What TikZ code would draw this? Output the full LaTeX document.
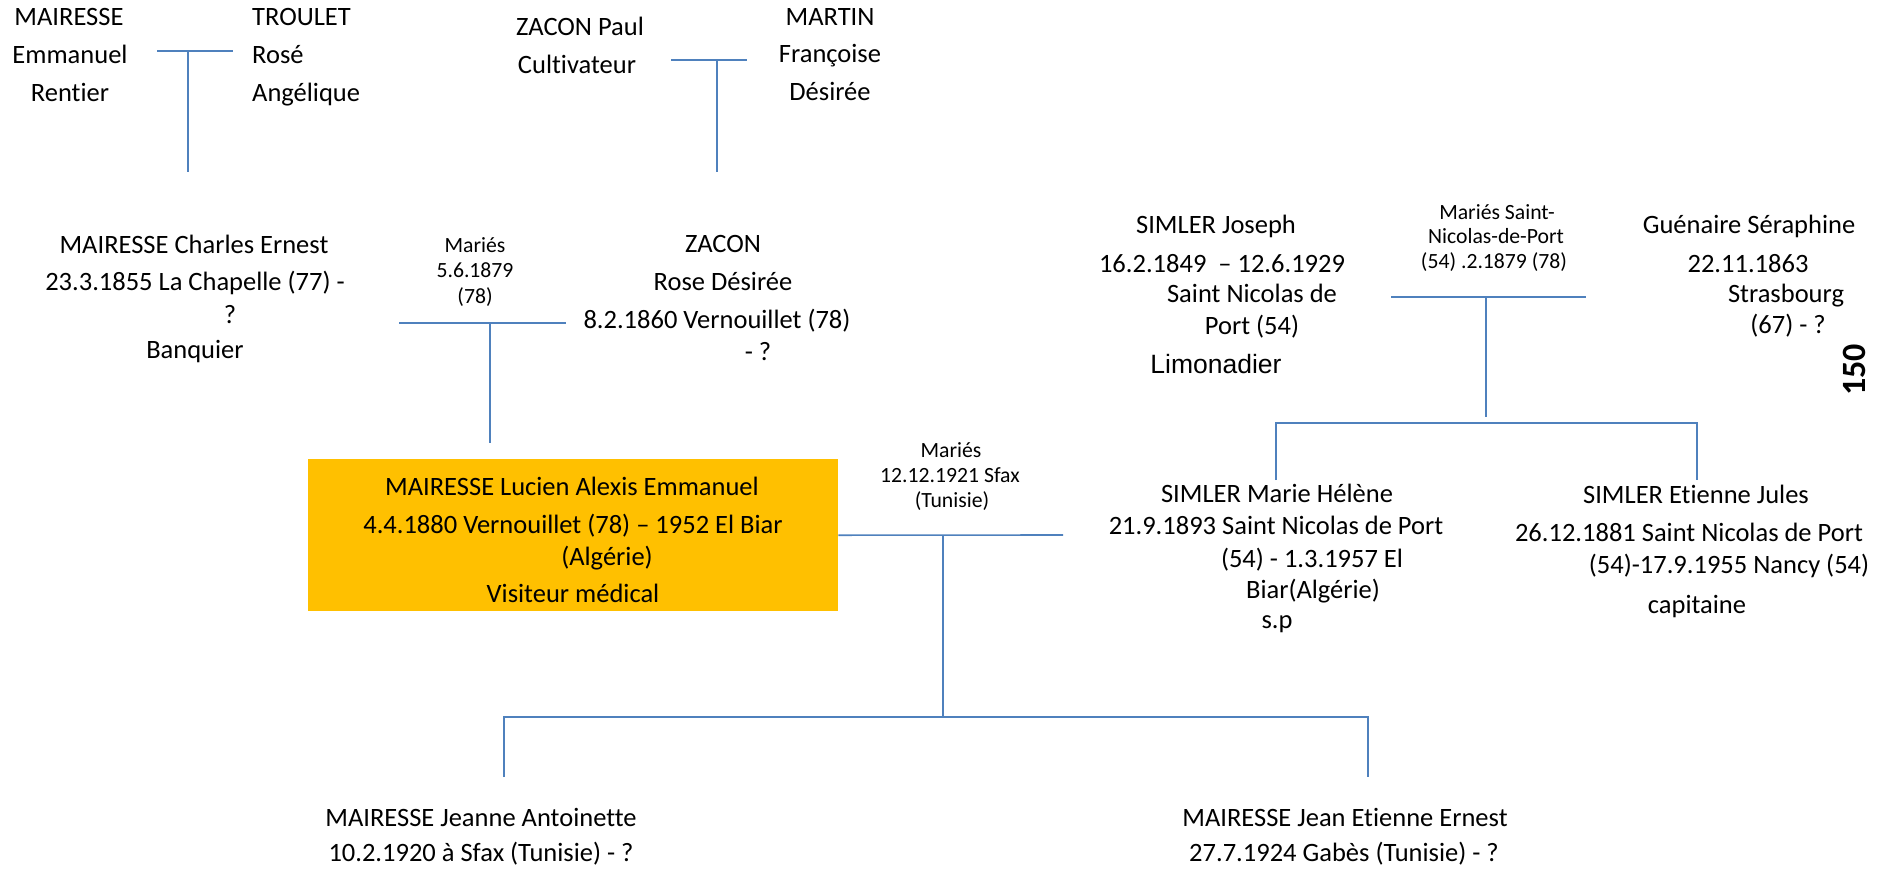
\documentclass[tikz,border=0pt]{standalone}
\usepackage{fontspec}
\setmainfont{Carlito}[Ligatures={NoCommon}]
\newfontfamily\arialf{Liberation Sans}
\definecolor{lineblue}{RGB}{79,129,189}
\definecolor{boxorange}{RGB}{255,192,0}
\begin{document}
\begin{tikzpicture}[x=1pt,y=-1pt,
  txt/.style={anchor=base,inner sep=0pt,font=\fontsize{26.5}{32}\selectfont},
  txtl/.style={txt,anchor=base west},
  sml/.style={anchor=base,inner sep=0pt,font=\fontsize{21.7}{26}\selectfont},
  conn/.style={draw=lineblue,line width=1.6pt}]
\useasboundingbox (0,0) rectangle (1894,871);

% ---- top generation
\node[txt] (ma1) at (69,25) {MAIRESSE};
\node[txt] (ma2) at (70,63) {Emmanuel};
\node[txt] (ma3) at (70,101) {Rentier};
\node[txtl] (tr1) at (252,25) {TROULET};
\node[txtl] (tr2) at (252,63) {Rosé};
\node[txtl] (tr3) at (252,101) {Angélique};
\coordinate (c1l) at (157,51); \coordinate (c1r) at (233,51);
\coordinate (c1m) at (188,51); \coordinate (c1d) at (188,172);
\draw[conn] (c1l) -- (c1r); \draw[conn] (c1m) -- (c1d);

\node[txt] (zp1) at (580,35) {ZACON Paul};
\node[txt] (zp2) at (577,73) {Cultivateur};
\node[txt] (mf1) at (830,25) {MARTIN};
\node[txt] (mf2) at (830,62) {Françoise};
\node[txt] (mf3) at (830,100) {Désirée};
\coordinate (c2l) at (671,60); \coordinate (c2r) at (747,60);
\coordinate (c2m) at (717,60); \coordinate (c2d) at (717,172);
\draw[conn] (c2l) -- (c2r); \draw[conn] (c2m) -- (c2d);

% ---- second generation
\node[txt] (ce1) at (194,253) {MAIRESSE Charles Ernest};
\node[txt] (ce2) at (195,290) {23.3.1855 La Chapelle (77) -};
\node[txt] (ce3) at (230,323) {?};
\node[txt] (ce4) at (195,358) {Banquier};
\node[sml] (m1a) at (475,252) {Mariés};
\node[sml] (m1b) at (475,277) {5.6.1879};
\node[sml] (m1c) at (475,303) {(78)};
\coordinate (c3l) at (399,323); \coordinate (c3r) at (566,323);
\coordinate (c3m) at (490,323); \coordinate (c3d) at (490,443);
\draw[conn] (c3l) -- (c3r); \draw[conn] (c3m) -- (c3d);
\node[txt] (zr1) at (723,252) {ZACON};
\node[txt] (zr2) at (723,290) {Rose Désirée};
\node[txt] (zr3) at (717,328) {8.2.1860 Vernouillet (78)};
\node[txt] (zr4) at (758,360) {- ?};

\node[txt] (sj1) at (1216,233) {SIMLER Joseph};
\node[txt] (sj2) at (1222,272) {16.2.1849 \ – 12.6.1929};
\node[txt] (sj3) at (1252,302) {Saint Nicolas de};
\node[txt] (sj4) at (1252,334) {Port (54)};
\node[txt,font=\arialf\fontsize{26.5}{32}\selectfont] (sj5) at (1216,373) {Limonadier};
\node[sml] (m2a) at (1497,219) {Mariés Saint-};
\node[sml] (m2b) at (1496,243) {Nicolas-de-Port};
\node[sml] (m2c) at (1494,268) {(54) .2.1879 (78)};
\coordinate (c4l) at (1391,297); \coordinate (c4r) at (1586,297);
\coordinate (c4m) at (1486,297); \coordinate (c4d) at (1486,417);
\draw[conn] (c4l) -- (c4r); \draw[conn] (c4m) -- (c4d);
\node[txt] (gs1) at (1749,233) {Guénaire Séraphine};
\node[txt] (gs2) at (1748,272) {22.11.1863};
\node[txt] (gs3) at (1786,302) {Strasbourg};
\node[txt] (gs4) at (1788,333) {(67) - ?};
\node[rotate=90,inner sep=0pt,font=\fontsize{34}{40}\bfseries\selectfont] (pg) at (1854,370) {150};

\coordinate (s1l) at (1276,423); \coordinate (s1r) at (1697,423);
\coordinate (s1a) at (1276,480); \coordinate (s1b) at (1697,480);
\draw[conn] (s1a) -- (s1l) -- (s1r) -- (s1b);

% ---- third generation
\node[fill=boxorange,minimum width=530pt,minimum height=152pt,anchor=north west,inner sep=0pt] (box) at (308,459) {};
\node[txt] (lu1) at (572,495) {MAIRESSE Lucien Alexis Emmanuel};
\node[txt] (lu2) at (573,533) {4.4.1880 Vernouillet (78) – 1952 El Biar};
\node[txt] (lu3) at (607,565) {(Algérie)};
\node[txt] (lu4) at (573,602) {Visiteur médical};
\node[sml] (m3a) at (951,457) {Mariés};
\node[sml] (m3b) at (950,482) {12.12.1921 Sfax};
\node[sml] (m3c) at (952,507) {(Tunisie)};
\coordinate (c5r) at (1063,535);
\coordinate (c5m) at (943,535); \coordinate (c5d) at (943,717);
\draw[conn] (box.east) -- (c5r); \draw[conn] (c5m) -- (c5d);

\node[txt] (mh1) at (1277,502) {SIMLER Marie Hélène};
\node[txt] (mh2) at (1276,534) {21.9.1893 Saint Nicolas de Port};
\node[txt] (mh3) at (1312,567) {(54) - 1.3.1957 El};
\node[txt] (mh4) at (1313,598) {Biar(Algérie)};
\node[txt] (mh5) at (1277,628) {s.p};
\node[txt] (ej1) at (1696,503) {SIMLER Etienne Jules};
\node[txt] (ej2) at (1689,541) {26.12.1881 Saint Nicolas de Port};
\node[txt] (ej3) at (1729,573) {(54)-17.9.1955 Nancy (54)};
\node[txt] (ej4) at (1697,613) {capitaine};

% ---- children
\coordinate (k1) at (504,717); \coordinate (k2) at (1368,717);
\coordinate (k1d) at (504,777); \coordinate (k2d) at (1368,777);
\draw[conn] (k1d) -- (k1) -- (k2) -- (k2d);
\node[txt] (ja1) at (481,826) {MAIRESSE Jeanne Antoinette};
\node[txt] (ja2) at (481,861) {10.2.1920 à Sfax (Tunisie) - ?};
\node[txt] (je1) at (1345,826) {MAIRESSE Jean Etienne Ernest};
\node[txt] (je2) at (1344,861) {27.7.1924 Gabès (Tunisie) - ?};
\end{tikzpicture}
\end{document}
